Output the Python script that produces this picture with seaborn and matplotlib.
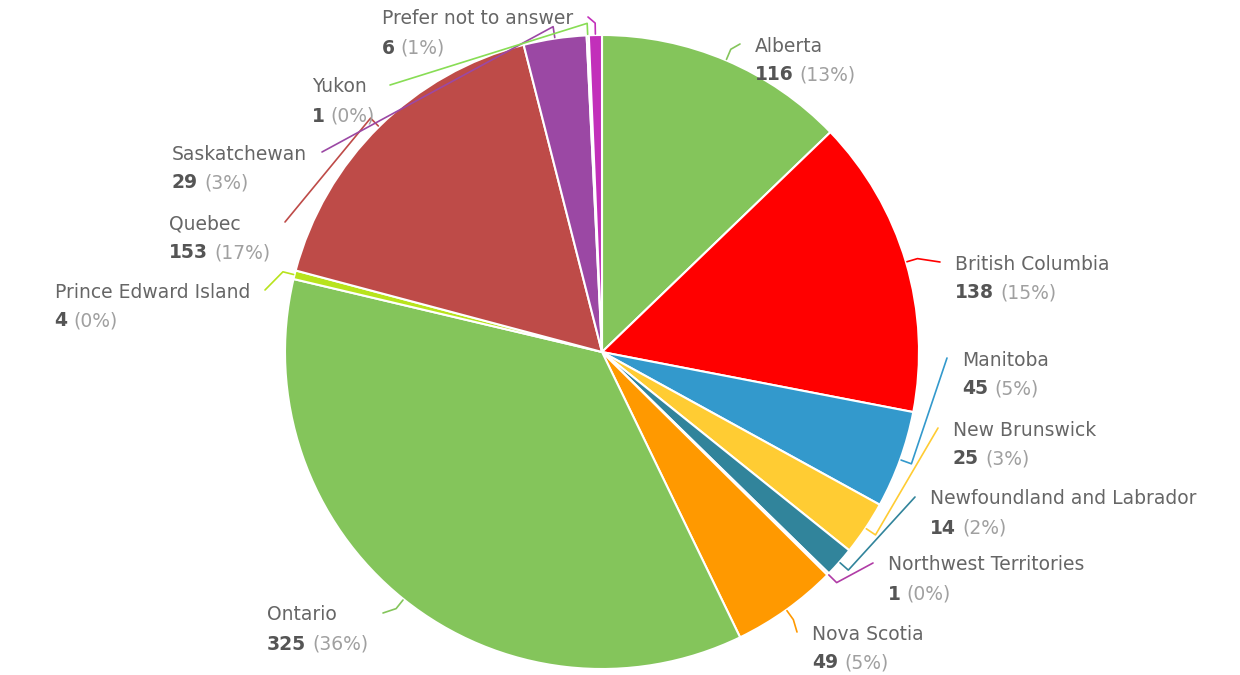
import numpy as np
import matplotlib
matplotlib.use("Agg")
import matplotlib.pyplot as plt
import seaborn as sns

sns.set_theme(style="white")
plt.rcParams['font.family'] = ['DejaVu Sans']

# 数据
provinces = ["Alberta", "British Columbia", "Manitoba", "New Brunswick",
             "Newfoundland and Labrador", "Northwest Territories", "Nova Scotia",
             "Ontario", "Prince Edward Island", "Quebec", "Saskatchewan", "Yukon",
             "Prefer not to answer"]
counts = [116, 138, 45, 25, 14, 1, 49, 325, 4, 153, 29, 1, 6]
slice_colors = ["#84c55b", "#ff0000", "#3399cc", "#ffcc33", "#31849b", "#b03ca6",
                "#ff9900", "#84c55b", "#b8e31c", "#be4b48", "#9b48a4", "#88dd55", "#c22fba"]

# 标签连线终点（像素，左上角为原点）
label_x = [740, 940, 947, 938, 915, 873, 797, 383, 265, 285, 322, 390, 588]
label_y = [44, 262, 358, 428, 497, 563, 632, 613, 290, 222, 152, 85, 17]

W, H = 1240, 675
cx, cy, R = 602, H - 352, 317

fig = plt.figure(figsize=(W / 100, H / 100), dpi=100)
ax = fig.add_axes([0, 0, 1, 1])

palette = sns.color_palette(slice_colors)
wedges, _ = ax.pie(counts, colors=palette, startangle=90, counterclock=False,
                   center=(cx, cy), radius=R,
                   wedgeprops=dict(edgecolor='white', linewidth=1.5))
ax.set_xlim(0, W)
ax.set_ylim(0, H)
ax.set_aspect('equal')
ax.axis('off')

renderer = fig.canvas.get_renderer()
total = sum(counts)
fs = 13.5
gap = 15
line_h = 29

for w, name, n, col, lx, ly in zip(wedges, provinces, counts, palette, label_x, label_y):
    mid = np.deg2rad((w.theta1 + w.theta2) / 2)
    ex, ey = lx, H - ly
    rim = (cx + (R + 1) * np.cos(mid), cy + (R + 1) * np.sin(mid))
    elbow = (cx + (R + 12) * np.cos(mid), cy + (R + 12) * np.sin(mid))
    ax.plot([ex, elbow[0], rim[0]], [ey, elbow[1], rim[1]], color=col, lw=1.2,
            solid_capstyle='round', solid_joinstyle='round')

    right_side = ex > cx
    y1 = ey - 2
    y2 = y1 - line_h
    pct = f"({round(n / total * 100)}%)"

    t_name = ax.text(0, y1, name, fontsize=fs, color='#666666', va='center', ha='left')
    t_cnt = ax.text(0, y2, str(n), fontsize=fs, color='#555555', fontweight='bold',
                    va='center', ha='left')
    t_pct = ax.text(0, y2, pct, fontsize=fs, color='#a0a0a0', va='center', ha='left')

    w_name = t_name.get_window_extent(renderer).width
    w_cnt = t_cnt.get_window_extent(renderer).width
    w_pct = t_pct.get_window_extent(renderer).width
    w_val = w_cnt + 6 + w_pct
    block = max(w_name, w_val)

    x0 = ex + gap if right_side else ex - gap - block
    t_name.set_x(x0)
    t_cnt.set_x(x0)
    t_pct.set_x(x0 + w_cnt + 6)

fig.savefig("out.png", dpi=100, facecolor='white')
